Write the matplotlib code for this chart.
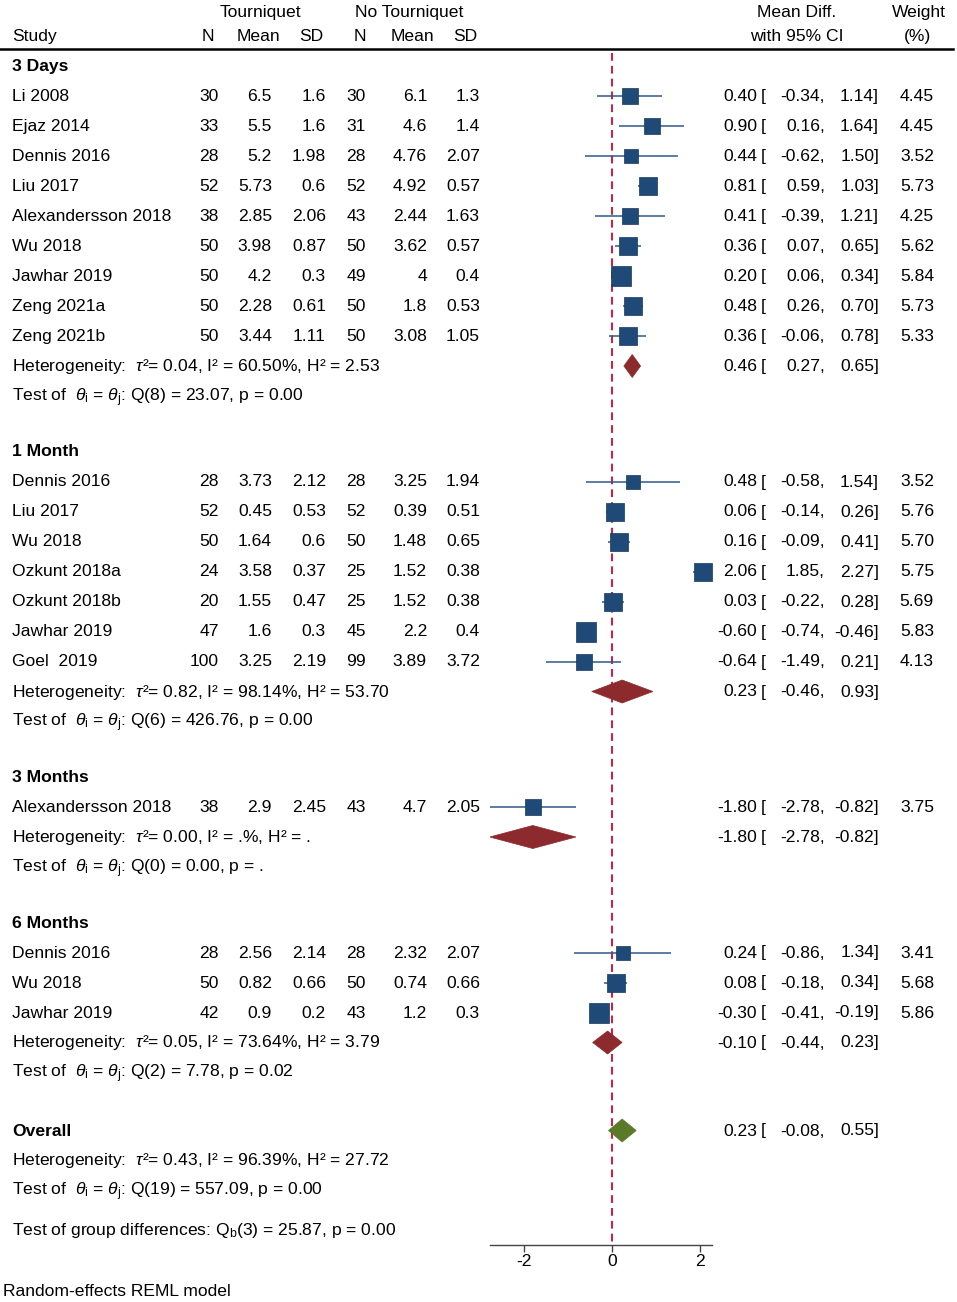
import numpy as np
import matplotlib
matplotlib.use("Agg")
from matplotlib import pyplot as plt
from matplotlib.patches import Polygon
from matplotlib.transforms import blended_transform_factory

plt.rcParams['font.family'] = ['Liberation Sans', 'DejaVu Sans']
plt.rcParams['mathtext.fontset'] = 'custom'
plt.rcParams['mathtext.rm'] = 'Liberation Sans'
plt.rcParams['mathtext.it'] = 'Liberation Sans:italic'
plt.rcParams['mathtext.bf'] = 'Liberation Sans:bold'

# ---- data ----
group_names = ["3 Days", "1 Month", "3 Months", "6 Months"]
study_group = [0]*9 + [1]*7 + [2] + [3]*3
studies = ["Li 2008", "Ejaz 2014", "Dennis 2016", "Liu 2017", "Alexandersson 2018",
           "Wu 2018", "Jawhar 2019", "Zeng 2021a", "Zeng 2021b",
           "Dennis 2016", "Liu 2017", "Wu 2018", "Ozkunt 2018a", "Ozkunt 2018b",
           "Jawhar 2019", "Goel  2019",
           "Alexandersson 2018",
           "Dennis 2016", "Wu 2018", "Jawhar 2019"]
n_t = [30, 33, 28, 52, 38, 50, 50, 50, 50, 28, 52, 50, 24, 20, 47, 100, 38, 28, 50, 42]
mean_t = [6.5, 5.5, 5.2, 5.73, 2.85, 3.98, 4.2, 2.28, 3.44,
          3.73, 0.45, 1.64, 3.58, 1.55, 1.6, 3.25, 2.9, 2.56, 0.82, 0.9]
sd_t = [1.6, 1.6, 1.98, 0.6, 2.06, 0.87, 0.3, 0.61, 1.11,
        2.12, 0.53, 0.6, 0.37, 0.47, 0.3, 2.19, 2.45, 2.14, 0.66, 0.2]
n_c = [30, 31, 28, 52, 43, 50, 49, 50, 50, 28, 52, 50, 25, 25, 45, 99, 43, 28, 50, 43]
mean_c = [6.1, 4.6, 4.76, 4.92, 2.44, 3.62, 4, 1.8, 3.08,
          3.25, 0.39, 1.48, 1.52, 1.52, 2.2, 3.89, 4.7, 2.32, 0.74, 1.2]
sd_c = [1.3, 1.4, 2.07, 0.57, 1.63, 0.57, 0.4, 0.53, 1.05,
        1.94, 0.51, 0.65, 0.38, 0.38, 0.4, 3.72, 2.05, 2.07, 0.66, 0.3]
md = [0.40, 0.90, 0.44, 0.81, 0.41, 0.36, 0.20, 0.48, 0.36,
      0.48, 0.06, 0.16, 2.06, 0.03, -0.60, -0.64, -1.80, 0.24, 0.08, -0.30]
ci_lo = [-0.34, 0.16, -0.62, 0.59, -0.39, 0.07, 0.06, 0.26, -0.06,
         -0.58, -0.14, -0.09, 1.85, -0.22, -0.74, -1.49, -2.78, -0.86, -0.18, -0.41]
ci_hi = [1.14, 1.64, 1.50, 1.03, 1.21, 0.65, 0.34, 0.70, 0.78,
         1.54, 0.26, 0.41, 2.27, 0.28, -0.46, 0.21, -0.82, 1.34, 0.34, -0.19]
weight = [4.45, 4.45, 3.52, 5.73, 4.25, 5.62, 5.84, 5.73, 5.33,
          3.52, 5.76, 5.70, 5.75, 5.69, 5.83, 4.13, 3.75, 3.41, 5.68, 5.86]

pool_md = [0.46, 0.23, -1.80, -0.10]
pool_lo = [0.27, -0.46, -2.78, -0.44]
pool_hi = [0.65, 0.93, -0.82, 0.23]
tau2 = ["0.04", "0.82", "0.00", "0.05"]
i2 = ["60.50", "98.14", ".", "73.64"]
h2 = ["2.53", "53.70", ".", "3.79"]
q_df = [8, 6, 0, 2]
q_stat = ["23.07", "426.76", "0.00", "7.78"]
q_p = ["0.00", "0.00", ".", "0.02"]

overall_md, overall_lo, overall_hi = 0.23, -0.08, 0.55
overall_tau2, overall_i2, overall_h2 = "0.43", "96.39", "27.72"
overall_qdf, overall_q, overall_p = 19, "557.09", "0.00"
qb_df, qb_stat, qb_p = 3, "25.87", "0.00"

# ---- layout ----
W, H = 957, 1302
fig = plt.figure(figsize=(W/100, H/100), dpi=100)
zero_px, px_unit = 612, 44
xmin, xmax = min(ci_lo), max(ci_hi)
ax = fig.add_axes([(zero_px + xmin*px_unit)/W, 0, (xmax - xmin)*px_unit/W, 1])
ax.set_xlim(xmin, xmax)
ax.set_ylim(H, 0)
ax.patch.set_visible(False)
tr = blended_transform_factory(fig.transFigure, ax.transData)

FS = 12.6
sq_col = '#1f4a78'
ci_col = '#2f5a88'
dia_col = '#8c2a2e'
ov_col = '#5a7a2a'


def txt(xpx, y, s, ha='left', bold=False):
    ax.text(xpx/W, y + 5, s, transform=tr, ha=ha, va='baseline', fontsize=FS,
            fontweight='bold' if bold else 'normal', clip_on=False)


def ci_text(y, e, lo, hi):
    txt(757, y, f"{e:.2f}", 'right')
    txt(761, y, "[")
    txt(825, y, f"{lo:.2f},", 'right')
    txt(879, y, f"{hi:.2f}]", 'right')


def diamond(y, e, lo, hi, col):
    ax.add_patch(Polygon([(lo, y), (e, y - 11.5), (hi, y), (e, y + 11.5)],
                         closed=True, facecolor=col, edgecolor=col, lw=0.5, zorder=4))


def het_str(t, i, h):
    return r"Heterogeneity:  $\tau$²= " + t + ", I² = " + i + "%, H² = " + h


def test_str(df, q, p):
    return (r"Test of  $\theta_{\rm i}$ = $\theta_{\rm j}$: Q(" + str(df) + ") = "
            + q + ", p = " + p)


# header
top = 12
txt(260, top, "Tourniquet", 'center')
txt(409, top, "No Tourniquet", 'center')
txt(797, top, "Mean Diff.", 'center')
txt(919, top, "Weight", 'center')
hy = 36
txt(12, hy, "Study")
txt(214, hy, "N", 'right')
txt(280, hy, "Mean", 'right')
txt(323, hy, "SD", 'right')
txt(366, hy, "N", 'right')
txt(434, hy, "Mean", 'right')
txt(477, hy, "SD", 'right')
txt(797, hy, "with 95% CI", 'center')
txt(918, hy, "(%)", 'center')
ax.plot([0/W, 953/W], [49, 49], transform=tr, color='black', lw=1.8, clip_on=False)

# null line
ax.plot([0, 0], [53, 1245], color='#d5173d', lw=1.4, ls=(0, (4, 2.6)), zorder=1)

y = 66
for g, name in enumerate(group_names):
    txt(12, y, name, bold=True)
    idx = [i for i, sg in enumerate(study_group) if sg == g]
    for i in idx:
        y += 30
        txt(12, y, studies[i])
        txt(219, y, f"{n_t[i]}", 'right')
        txt(272, y, f"{mean_t[i]:g}", 'right')
        txt(326, y, f"{sd_t[i]:g}", 'right')
        txt(366, y, f"{n_c[i]}", 'right')
        txt(427, y, f"{mean_c[i]:g}", 'right')
        txt(480, y, f"{sd_c[i]:g}", 'right')
        ci_text(y, md[i], ci_lo[i], ci_hi[i])
        txt(934, y, f"{weight[i]:.2f}", 'right')
        ax.hlines(y, ci_lo[i], ci_hi[i], color=ci_col, lw=1.1, zorder=2)
        ax.scatter([md[i]], [y], marker='s', s=32.4*weight[i], color=sq_col,
                   edgecolor='#16385e', lw=0.5, zorder=3)
    y += 30
    txt(12, y, het_str(tau2[g], i2[g], h2[g]))
    ci_text(y, pool_md[g], pool_lo[g], pool_hi[g])
    diamond(y, pool_md[g], pool_lo[g], pool_hi[g], dia_col)
    y += 30
    txt(12, y, test_str(q_df[g], q_stat[g], q_p[g]))
    y += 55.5

y = y - 55.5 + 58
txt(12, y, "Overall", bold=True)
ci_text(y, overall_md, overall_lo, overall_hi)
diamond(y, overall_md, overall_lo, overall_hi, ov_col)
y += 30
txt(12, y, het_str(overall_tau2, overall_i2, overall_h2))
y += 30
txt(12, y, test_str(overall_qdf, overall_q, overall_p))
y += 39
txt(12, y, r"Test of group differences: Q$_{\rm b}$(" + str(qb_df) + ") = "
    + qb_stat + ", p = " + qb_p)

txt(3, 1291, "Random-effects REML model")

# x axis
for s in ['top', 'left', 'right']:
    ax.spines[s].set_visible(False)
ax.spines['bottom'].set_position(('data', 1245))
ax.spines['bottom'].set_color('#444444')
ax.spines['bottom'].set_linewidth(1.0)
ax.set_xticks([-2, 0, 2])
ax.set_xticklabels(["-2", "0", "2"])
ax.tick_params(axis='x', direction='out', length=5, width=1.0, color='#444444',
               labelsize=FS, pad=1.5)
ax.set_yticks([])

fig.savefig("out.png", dpi=100)
